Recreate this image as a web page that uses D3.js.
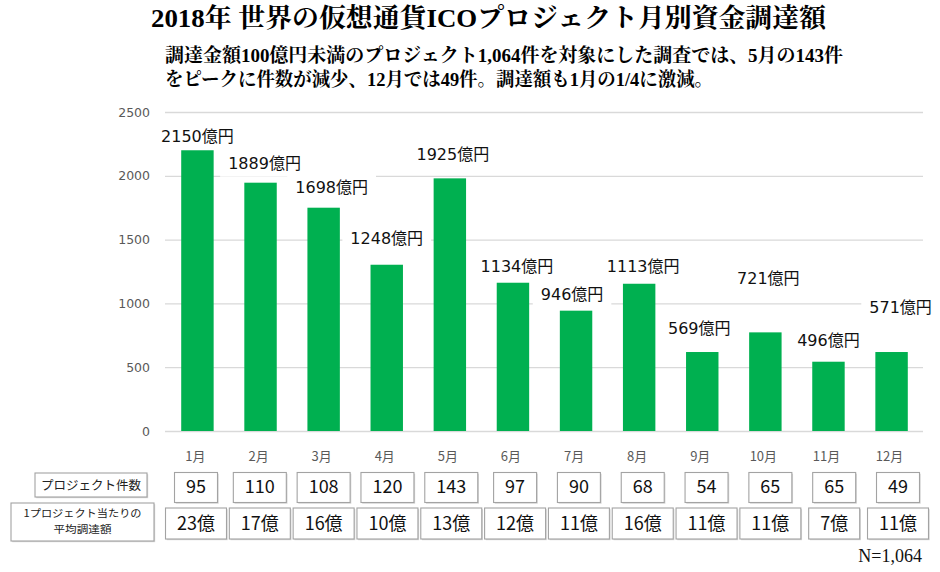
<!DOCTYPE html>
<html>
<head>
<meta charset="utf-8">
<script src="https://cdn.jsdelivr.net/npm/d3@7"></script>
<style>
  html, body { margin: 0; padding: 0; background: #fff; }
  svg { display: block; }
</style>
</head>
<body>
<svg id="chart" width="940" height="572"></svg>
<script>
// ---- data ----
const months = ["1月","2月","3月","4月","5月","6月","7月","8月","9月","10月","11月","12月"];
// bar heights as drawn in the picture (億円)
const barValues = [2208, 1946, 1750, 1303, 1980, 1162, 943, 1154, 619, 773, 543, 619];
// data label values (億円)
const labelValues = [2150, 1889, 1698, 1248, 1925, 1134, 946, 1113, 569, 721, 496, 571];
const projectCounts = [95, 110, 108, 120, 143, 97, 90, 68, 54, 65, 65, 49];
const avgAmounts = [23, 17, 16, 10, 13, 12, 11, 16, 11, 11, 7, 11];
const yTicks = [0, 500, 1000, 1500, 2000, 2500];
const titleText = "2018年 世界の仮想通貨ICOプロジェクト月別資金調達額";
const subtitleLines = [
  "調達金額100億円未満のプロジェクト1,064件を対象にした調査では、5月の143件",
  "をピークに件数が減少、12月では49件。調達額も1月の1/4に激減。"
];
const rowHeaders = ["プロジェクト件数", ["1プロジェクト当たりの", "平均調達額"]];
const noteText = "N=1,064";
// label nudges relative to bar top / band centre (layout only)
const labelNudge = [[0,-7],[4,-14],[8,-15],[0,-21],[3,-18],[4,-11],[-4,-11],[4,-12],[-3,-18],[3,-48],[0,-16],[9,-39]];

const svg = d3.select("#chart");
const green = "#00b050";
const sans = "'Noto Sans CJK JP', 'Noto Sans', sans-serif";
const serif = "'Liberation Serif', 'Noto Serif CJK JP', 'Noto Sans CJK JP', serif";

// ---- scales ----
const x = d3.scaleBand().domain(months).range([165.5, 923.5]).paddingInner(0.486).paddingOuter(0.249);
const y = d3.scaleLinear().domain([0, 2500]).range([431, 112]);
const tx = d3.scalePoint().domain(months).range([196, 898]);

// ---- title ----
svg.append("text").attr("x", 151).attr("y", 27)
  .attr("font-family", serif).attr("font-size", 26).attr("font-weight", "bold")
  .attr("textLength", 675).attr("lengthAdjust", "spacingAndGlyphs")
  .attr("fill", "#000").text(titleText);
const subLens = [678, 548];
subtitleLines.forEach((t, i) => {
  svg.append("text").attr("x", 165).attr("y", 62 + i * 24)
    .attr("font-family", serif).attr("font-size", 19).attr("font-weight", "bold")
    .attr("textLength", subLens[i]).attr("lengthAdjust", "spacingAndGlyphs")
    .attr("fill", "#000").text(t);
});

// ---- grid + y axis ----
const yAxis = d3.axisLeft(y).tickValues(yTicks).tickSize(-(923 - 165)).tickPadding(15).tickFormat(d3.format("d"));
const gy = svg.append("g").attr("transform", "translate(165,0)").call(yAxis);
gy.select(".domain").remove();
gy.selectAll(".tick line").attr("stroke", "#d9d9d9").attr("stroke-width", 1.3);
gy.selectAll(".tick text").attr("fill", "#595959").attr("font-size", 12.5)
  .attr("font-family", "'DejaVu Sans', sans-serif");

// ---- bars ----
svg.append("g").selectAll("rect").data(months).join("rect")
  .attr("x", d => x(d)).attr("width", x.bandwidth())
  .attr("y", (d, i) => y(barValues[i])).attr("height", (d, i) => y(0) - y(barValues[i]))
  .attr("fill", green);

// ---- data labels (white boxes hide gridlines) ----
const lg = svg.append("g");
months.forEach((m, i) => {
  const cx = x(m) + x.bandwidth() / 2 + labelNudge[i][0];
  const by = y(barValues[i]) + labelNudge[i][1];
  const g = lg.append("g");
  const bg = g.append("rect").attr("fill", "#fff");
  const t = g.append("text").attr("x", cx).attr("y", by).attr("text-anchor", "middle")
    .attr("font-family", "'DejaVu Sans', 'Noto Sans CJK JP', sans-serif").attr("font-size", 16)
    .attr("fill", "#111").text(labelValues[i] + "億円");
  const bb = t.node().getBBox();
  bg.attr("x", bb.x - 8).attr("y", bb.y - 3).attr("width", bb.width + 16).attr("height", bb.height + 7);
});

// ---- month labels ----
svg.append("g").selectAll("text").data(months).join("text")
  .attr("x", d => x(d) + x.bandwidth() / 2 - 2).attr("y", 461)
  .attr("text-anchor", "middle").attr("font-family", sans).attr("font-size", 13)
  .attr("fill", "#595959").text(d => d);

// ---- table ----
function framed(g, rx, ry, w, h) {
  g.append("rect").attr("x", rx + 1.2).attr("y", ry + 1.2).attr("width", w).attr("height", h)
    .attr("fill", "#d6d6d6");
  g.append("rect").attr("x", rx).attr("y", ry).attr("width", w).attr("height", h)
    .attr("fill", "#fff").attr("stroke", "#a3a3a3").attr("stroke-width", 1.1);
}
function box(g, cx, yTop, h, txt, fs, baseline) {
  const grp = g.append("g");
  const t = grp.append("text").attr("x", cx).attr("y", baseline).attr("text-anchor", "middle")
    .attr("font-family", sans).attr("font-size", fs).attr("fill", "#111").text(txt);
  const w = t.node().getComputedTextLength() + 23;
  const fr = grp.insert("g", "text");
  framed(fr, cx - w / 2, yTop, w, h);
}
const tg = svg.append("g");
months.forEach((m, i) => {
  box(tg, tx(m), 472.5, 30, String(projectCounts[i]), 18, 493);
  box(tg, tx(m), 508, 31, avgAmounts[i] + "億", 18, 529.5);
});

// row headers
framed(tg.append("g"), 35, 473, 112, 24);
tg.append("text").attr("x", 91).attr("y", 489.5).attr("text-anchor", "middle")
  .attr("font-family", sans).attr("font-size", 12.5).attr("fill", "#222").text(rowHeaders[0]);
framed(tg.append("g"), 11, 503, 143, 38);
const h2Len = [118, 58];
rowHeaders[1].forEach((t, i) => {
  tg.append("text").attr("x", 82.5 - h2Len[i] / 2).attr("y", 517 + i * 15.5)
    .attr("font-family", sans).attr("font-size", 10.6).attr("fill", "#222")
    .attr("textLength", h2Len[i]).attr("lengthAdjust", "spacingAndGlyphs").text(t);
});

// ---- note ----
svg.append("text").attr("x", 922).attr("y", 562).attr("text-anchor", "end")
  .attr("font-family", serif).attr("font-size", 18).attr("fill", "#111").text(noteText);
</script>
</body>
</html>
